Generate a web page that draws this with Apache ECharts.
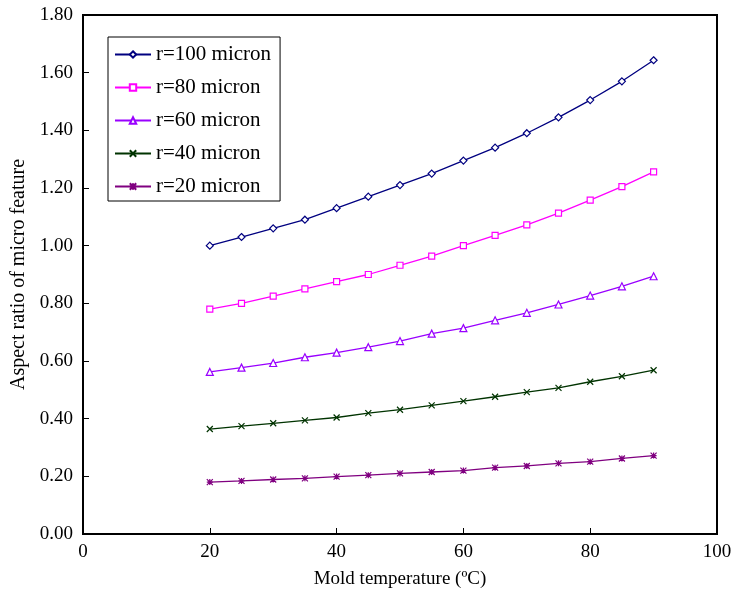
<!DOCTYPE html>
<html>
<head>
<meta charset="utf-8">
<script src="https://cdn.jsdelivr.net/npm/echarts@6/dist/echarts.min.js"></script>
<style>
  html, body { margin:0; padding:0; background:#fff; }
  #chart { width:738px; height:596px; }
</style>
</head>
<body>
<div id="chart"></div>
<script>
const temps = [20,25,30,35,40,45,50,55,60,65,70,75,80,85,90];
const r100 = [1.00,1.03,1.06,1.09,1.13,1.17,1.21,1.25,1.295,1.34,1.39,1.445,1.505,1.57,1.643];
const r80  = [0.78,0.80,0.825,0.85,0.875,0.90,0.932,0.964,1.00,1.036,1.072,1.113,1.158,1.205,1.256];
const r60  = [0.562,0.577,0.593,0.613,0.629,0.648,0.669,0.695,0.714,0.741,0.767,0.796,0.827,0.859,0.894];
const r40  = [0.364,0.374,0.384,0.394,0.404,0.419,0.431,0.446,0.461,0.476,0.492,0.507,0.528,0.547,0.568];
const r20  = [0.180,0.184,0.189,0.193,0.199,0.204,0.210,0.215,0.220,0.230,0.236,0.245,0.251,0.262,0.272];

const FONT = '"Liberation Serif", "Times New Roman", serif';
const xMark = 'path://M0,0L10,10M10,0L0,10';
const starMark = 'path://M0,0L10,10M10,0L0,10M5,0L5,10M0,5L10,5';

const seriesDefs = [
  { name:'r=100 micron', data:r100, color:'#000080', symbol:'diamond', size:7, fill:'#fff' },
  { name:'r=80 micron',  data:r80,  color:'#ff00ff', symbol:'rect', size:6, fill:'#fff' },
  { name:'r=60 micron',  data:r60,  color:'#9900ff', symbol:'triangle', size:7, fill:'#fff' },
  { name:'r=40 micron',  data:r40,  color:'#003300', symbol:xMark, size:6, fill:'none' },
  { name:'r=20 micron',  data:r20,  color:'#800080', symbol:starMark, size:6, fill:'none' }
];

const chart = echarts.init(document.getElementById('chart'));
chart.setOption({
  animation: false,
  backgroundColor: '#fff',
  textStyle: { fontFamily: FONT },
  grid: { left: 83, right: 21, top: 15, bottom: 62, show: true, borderColor: '#000', borderWidth: 2 },
  legend: {
    orient: 'vertical', left: 108, top: 37,
    backgroundColor: '#fff', borderColor: '#000', borderWidth: 1,
    padding: [7, 9, 4, 6], itemGap: 12, itemWidth: 36, itemHeight: 8,
    textStyle: { fontFamily: FONT, fontSize: 21, color: '#000' },
    data: seriesDefs.map(s => s.name)
  },
  xAxis: {
    type: 'value', min: 0, max: 100, interval: 20,
    name: 'Mold temperature (ºC)', nameLocation: 'middle', nameGap: 36,
    nameTextStyle: { fontFamily: FONT, fontSize: 19, color: '#000' },
    axisLine: { lineStyle: { color: '#000', width: 2 } },
    axisTick: { inside: true, length: 6, lineStyle: { color: '#000' } },
    axisLabel: { fontFamily: FONT, fontSize: 19, color: '#000', margin: 9 },
    splitLine: { show: false }
  },
  yAxis: {
    type: 'value', min: 0, max: 1.8, interval: 0.2,
    name: 'Aspect ratio of micro feature', nameLocation: 'middle', nameGap: 53,
    nameTextStyle: { fontFamily: FONT, fontSize: 20, color: '#000' },
    axisLine: { lineStyle: { color: '#000', width: 2 } },
    axisTick: { inside: true, length: 6, lineStyle: { color: '#000' } },
    axisLabel: { fontFamily: FONT, fontSize: 19, color: '#000', margin: 10, formatter: v => v.toFixed(2) },
    splitLine: { show: false }
  },
  series: seriesDefs.map(s => ({
    type: 'line', name: s.name,
    data: temps.map((t, i) => [t, s.data[i]]),
    symbol: s.symbol, symbolSize: s.size, showAllSymbol: true,
    lineStyle: { color: s.color, width: 1.3 },
    itemStyle: { color: s.fill, borderColor: s.color, borderWidth: 1.2 },
    emphasis: { disabled: true }
  }))
});
</script>
</body>
</html>
